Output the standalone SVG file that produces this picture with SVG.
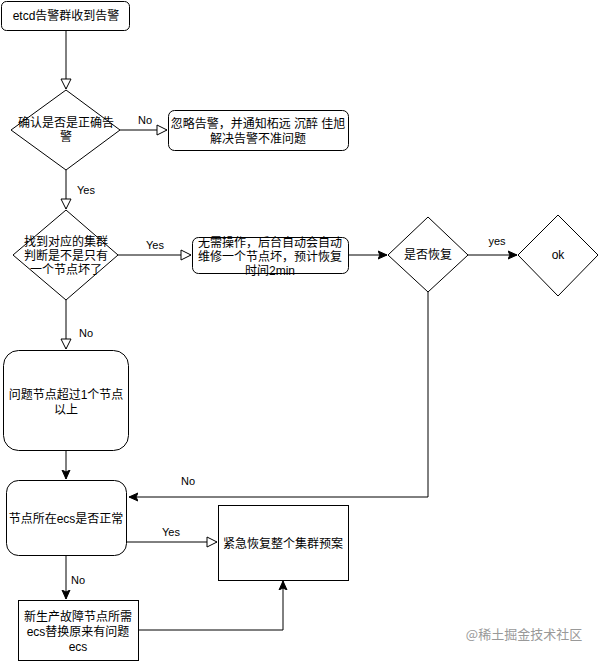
<svg xmlns="http://www.w3.org/2000/svg" width="599" height="661" viewBox="0 0 599 661">
<style>
.n{fill:#fff;stroke:#000;stroke-width:1}
.t{font-family:"Liberation Sans","Noto Sans CJK SC",sans-serif;font-size:12px;fill:#000;text-anchor:middle}
.l{font-family:"Liberation Sans","Noto Sans CJK SC",sans-serif;font-size:11px;fill:#000;text-anchor:middle}
.c{fill:none;stroke:#000;stroke-width:1}
.wm{font-family:"Noto Sans CJK SC",sans-serif;font-size:13px;fill:#999;text-anchor:middle}
</style>
<defs>
<marker id="open" markerWidth="12" markerHeight="12" refX="11" refY="6" orient="auto" markerUnits="userSpaceOnUse">
<path d="M1,1 L11,6 L1,11 Z" fill="#fff" stroke="#000" stroke-width="1"/>
</marker>
<marker id="fill" markerWidth="10" markerHeight="10" refX="9" refY="5" orient="auto" markerUnits="userSpaceOnUse">
<path d="M0,1 L9,5 L0,9 L2,5 Z" fill="#000" stroke="#000" stroke-width="1"/>
</marker>
</defs>
<rect width="599" height="661" fill="#fff"/>
<g id="connectors">
<path class="c" d="M66,30 V89" marker-end="url(#open)"/>
<path class="c" d="M120,130 H167" marker-end="url(#open)"/>
<path class="c" d="M66,170 V209" marker-end="url(#open)"/>
<path class="c" d="M118,255 H191" marker-end="url(#open)"/>
<path class="c" d="M348,255 H387" marker-end="url(#fill)"/>
<path class="c" d="M468,255 H517" marker-end="url(#fill)"/>
<path class="c" d="M428,292 V497 H129" marker-end="url(#fill)"/>
<path class="c" d="M66,300 V349" marker-end="url(#open)"/>
<path class="c" d="M66,450 V479" marker-end="url(#fill)"/>
<path class="c" d="M127,542 H217" marker-end="url(#open)"/>
<path class="c" d="M66,555 V599" marker-end="url(#fill)"/>
<path class="c" d="M138,630 H283 V581" marker-end="url(#fill)"/>
<text class="l" x="145" y="124">No</text>
<text class="l" x="86" y="194">Yes</text>
<text class="l" x="155" y="249">Yes</text>
<text class="l" x="497" y="245">yes</text>
<text class="l" x="86" y="337">No</text>
<text class="l" x="188" y="485">No</text>
<text class="l" x="171" y="536">Yes</text>
<text class="l" x="78" y="584">No</text>
</g>
<g id="n1">
<rect class="n" x="1.5" y="1.5" width="128" height="29" rx="5"/>
<text class="t" x="66" y="20">etcd告警群收到告警</text>
</g>
<g id="n2">
<path class="n" d="M66,90 L120,130 L66,170 L11,130 Z"/>
<text class="t" x="66" y="127">确认是否是正确告</text>
<text class="t" x="66" y="141">警</text>
</g>
<g id="n3">
<rect class="n" x="168.5" y="110.5" width="180" height="40" rx="6"/>
<text class="t" x="258" y="128">忽略告警，并通知柘远 沉醉 佳旭</text>
<text class="t" x="258" y="143">解决告警不准问题</text>
</g>
<g id="n4">
<path class="n" d="M66,210 L118,255 L66,300 L13,255 Z"/>
<text class="t" x="66" y="246">找到对应的集群</text>
<text class="t" x="66" y="260">判断是不是只有</text>
<text class="t" x="66" y="274">一个节点坏了</text>
</g>
<g id="n5">
<rect class="n" x="192.5" y="237.5" width="156" height="36" rx="6"/>
<text class="t" x="270" y="247">无需操作，后台自动会自动</text>
<text class="t" x="270" y="261">维修一个节点坏，预计恢复</text>
<text class="t" x="270" y="275">时间2min</text>
</g>
<g id="n6">
<path class="n" d="M428,217 L468,255 L428,292 L388,255 Z"/>
<text class="t" x="428" y="259">是否恢复</text>
</g>
<g id="n7">
<path class="n" d="M558,215 L598,255 L558,296 L518,255 Z"/>
<text class="t" x="558" y="259">ok</text>
</g>
<g id="n8">
<rect class="n" x="3.5" y="350.5" width="125" height="100" rx="15"/>
<text class="t" x="66" y="399">问题节点超过1个节点</text>
<text class="t" x="66" y="414">以上</text>
</g>
<g id="n9">
<rect class="n" x="6.5" y="480.5" width="120" height="75" rx="12"/>
<text class="t" x="66" y="523">节点所在ecs是否正常</text>
</g>
<g id="n10">
<rect class="n" x="218.5" y="505.5" width="130" height="75"/>
<text class="t" x="283" y="548">紧急恢复整个集群预案</text>
</g>
<g id="n11">
<rect class="n" x="18.5" y="600.5" width="120" height="60"/>
<text class="t" x="78" y="621">新生产故障节点所需</text>
<text class="t" x="78" y="636">ecs替换原来有问题</text>
<text class="t" x="78" y="651">ecs</text>
</g>
<text class="wm" x="524" y="639">@稀土掘金技术社区</text>
</svg>
